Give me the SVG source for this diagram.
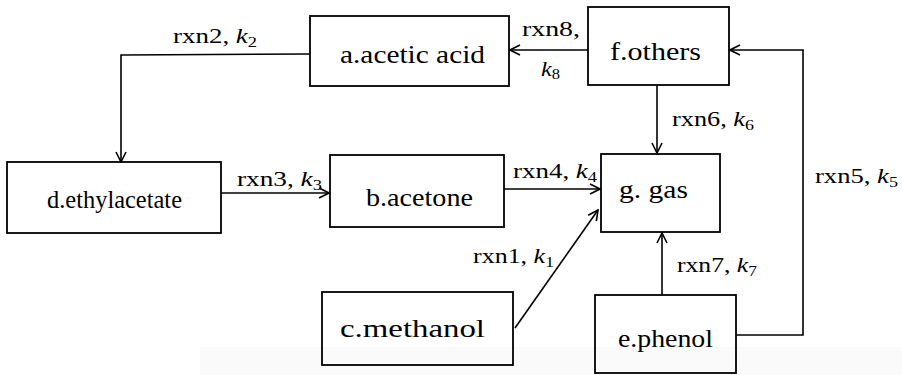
<svg xmlns="http://www.w3.org/2000/svg" width="902" height="375" viewBox="0 0 902 375">
<style>
.box{fill:none;stroke:#000;stroke-width:1.8}
.nt{font-size:25px;fill:#000}
.lbl{font-size:22px;fill:#000}
.k{font-style:italic}
.sub{font-size:15px}
.conn{fill:none;stroke:#000;stroke-width:1.6;marker-end:url(#arr)}
</style>
<defs>
<marker id="arr" viewBox="0 0 12 12" refX="11" refY="6" markerWidth="12" markerHeight="12" markerUnits="userSpaceOnUse" orient="auto">
<path d="M1,1 L11,6 L1,11" fill="none" stroke="#000" stroke-width="1.6"/>
</marker>
</defs>
<rect x="0" y="0" width="902" height="375" fill="#fff"/>
<rect x="200" y="347" width="702" height="28" fill="#fafafa"/>
<g id="connectors">
<polyline class="conn" points="310,54 121,55 121,162"/>
<line class="conn" x1="588" y1="50" x2="510" y2="50"/>
<line class="conn" x1="657" y1="85" x2="657" y2="153"/>
<line class="conn" x1="221" y1="193" x2="329" y2="193"/>
<line class="conn" x1="504" y1="189" x2="600" y2="189"/>
<line class="conn" x1="515" y1="328" x2="598" y2="210"/>
<line class="conn" x1="662" y1="295" x2="662" y2="233"/>
<polyline class="conn" points="736,335 803,335 803,50 730,50"/>
</g>
<g id="labels" font-family="Liberation Serif, Times New Roman, DejaVu Serif, serif">
<text class="lbl" x="173" y="43" textLength="84" lengthAdjust="spacingAndGlyphs">rxn2, <tspan class="k">k</tspan><tspan class="sub" dy="4">2</tspan></text>
<text class="lbl" x="522" y="36" textLength="58" lengthAdjust="spacingAndGlyphs">rxn8,</text>
<text class="lbl" x="541" y="76" textLength="19" lengthAdjust="spacingAndGlyphs"><tspan class="k">k</tspan><tspan class="sub" dy="3">8</tspan></text>
<text class="lbl" x="672" y="126" textLength="82" lengthAdjust="spacingAndGlyphs">rxn6, <tspan class="k">k</tspan><tspan class="sub" dy="4">6</tspan></text>
<text class="lbl" x="237" y="186" textLength="85" lengthAdjust="spacingAndGlyphs">rxn3, <tspan class="k">k</tspan><tspan class="sub" dy="4">3</tspan></text>
<text class="lbl" x="513" y="178" textLength="84" lengthAdjust="spacingAndGlyphs">rxn4, <tspan class="k">k</tspan><tspan class="sub" dy="4">4</tspan></text>
<text class="lbl" x="815" y="183" textLength="83" lengthAdjust="spacingAndGlyphs">rxn5, <tspan class="k">k</tspan><tspan class="sub" dy="4">5</tspan></text>
<text class="lbl" x="473" y="263" textLength="81" lengthAdjust="spacingAndGlyphs">rxn1, <tspan class="k">k</tspan><tspan class="sub" dy="4">1</tspan></text>
<text class="lbl" x="677" y="272" textLength="80" lengthAdjust="spacingAndGlyphs">rxn7, <tspan class="k">k</tspan><tspan class="sub" dy="4">7</tspan></text>
</g>
<g id="nodes" font-family="Liberation Serif, Times New Roman, DejaVu Serif, serif">
<g id="a">
<rect class="box" x="310" y="16" width="199" height="70"/>
<text class="nt" x="340" y="63" textLength="145" lengthAdjust="spacingAndGlyphs">a.acetic acid</text>
</g>
<g id="f">
<rect class="box" x="588" y="7" width="141" height="78"/>
<text class="nt" x="610" y="60" textLength="91" lengthAdjust="spacingAndGlyphs">f.others</text>
</g>
<g id="d">
<rect class="box" x="7" y="162" width="214" height="71"/>
<text class="nt" x="47" y="208" textLength="135" lengthAdjust="spacingAndGlyphs">d.ethylacetate</text>
</g>
<g id="b">
<rect class="box" x="330" y="155" width="174" height="72"/>
<text class="nt" x="366" y="206" textLength="107" lengthAdjust="spacingAndGlyphs">b.acetone</text>
</g>
<g id="g">
<rect class="box" x="601" y="154" width="119" height="78"/>
<text class="nt" x="619" y="198" textLength="69" lengthAdjust="spacingAndGlyphs">g. gas</text>
</g>
<g id="c">
<rect class="box" x="322" y="292" width="191" height="73"/>
<text class="nt" x="340" y="337" textLength="145" lengthAdjust="spacingAndGlyphs">c.methanol</text>
</g>
<g id="e">
<rect class="box" x="595" y="295" width="141" height="78"/>
<text class="nt" x="618" y="347" textLength="95" lengthAdjust="spacingAndGlyphs">e.phenol</text>
</g>
</g>
</svg>
